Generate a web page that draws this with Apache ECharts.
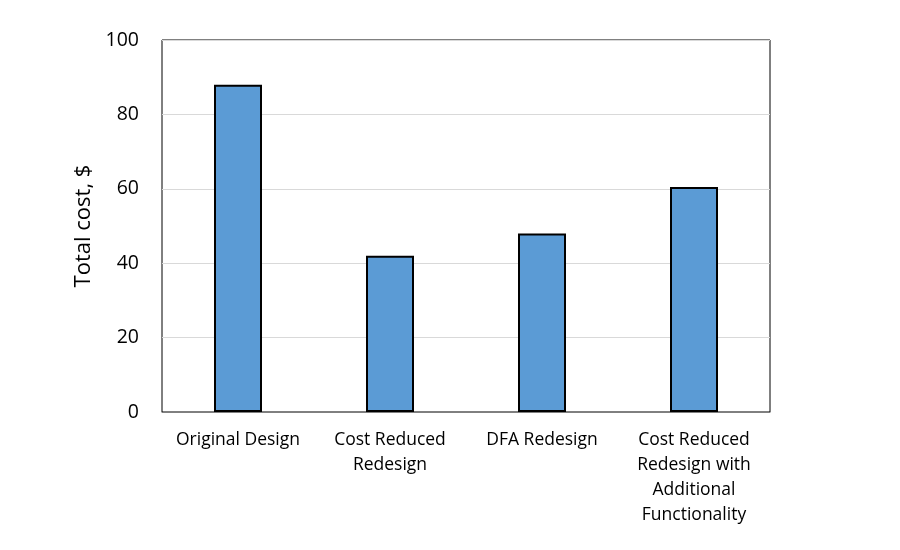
<!DOCTYPE html>
<html><head><meta charset="utf-8">
<script src="https://cdn.jsdelivr.net/npm/echarts@6/dist/echarts.min.js"></script>
<style>html,body{margin:0;padding:0;background:#fff}#c{width:900px;height:550px}</style>
</head><body><div id="c"></div>
<script>
const categories = ["Original Design", "Cost Reduced\nRedesign", "DFA Redesign", "Cost Reduced\nRedesign with\nAdditional\nFunctionality"];
const totalCost = [88, 42, 48, 60.5];
const yTicks = [0, 20, 40, 60, 80, 100];
const yAxisName = "Total cost, $";

const chart = echarts.init(document.getElementById('c'), null, {renderer: 'canvas'});
const font = "Open Sans";
chart.setOption({
  animation: false,
  backgroundColor: '#fff',
  grid: {left: 162, right: 130, top: 40, bottom: 138, show: true, borderColor: '#000', borderWidth: 1, backgroundColor: 'transparent'},
  xAxis: {
    type: 'category', data: categories,
    axisLine: {show: true, lineStyle: {color: '#7f7f7f', width: 1}},
    axisTick: {show: false},
    axisLabel: {color: '#000', fontFamily: font, fontSize: 17.5, lineHeight: 25, margin: 16, interval: 0}
  },
  yAxis: {
    type: 'value', min: yTicks[0], max: yTicks[yTicks.length-1], interval: 20,
    name: yAxisName, nameLocation: 'middle', nameGap: 64, nameRotate: 90,
    nameTextStyle: {color: '#000', fontFamily: font, fontSize: 22},
    axisLine: {show: false}, axisTick: {show: false},
    axisLabel: {color: '#000', fontFamily: font, fontSize: 19.5, margin: 23},
    splitLine: {show: true, lineStyle: {color: '#d9d9d9', width: 1}}
  },
  series: [{
    type: 'bar', data: totalCost, barWidth: 48,
    itemStyle: {color: '#5b9bd5', borderColor: '#000', borderWidth: 2}
  }]
});
</script></body></html>
